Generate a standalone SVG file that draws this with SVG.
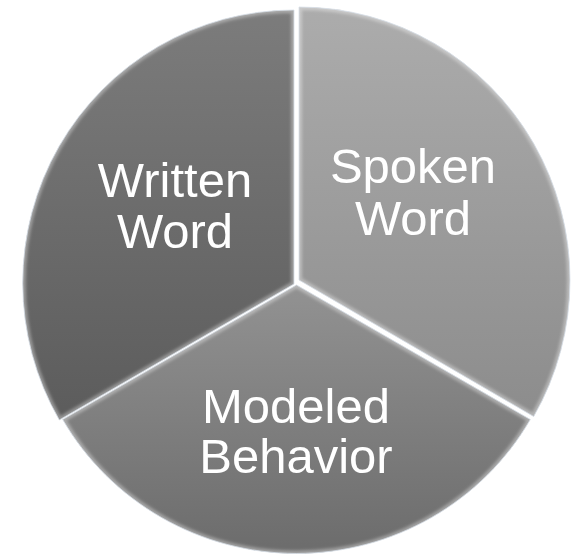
<svg xmlns="http://www.w3.org/2000/svg" width="571" height="555" viewBox="0 0 571 555">
  <style>
    .lbl { font-family: "Liberation Sans", Arial, sans-serif; font-size: 49px; fill: #ffffff; text-anchor: middle; }
    .bevel { fill: none; stroke: #ffffff; stroke-width: 6; stroke-opacity: 0.35; filter: url(#blur); }
    .rim { fill: none; stroke: #d8e0e8; stroke-width: 0.8; }
  </style>
  <defs>
    <linearGradient id="gW" gradientUnits="userSpaceOnUse" x1="0" y1="10" x2="0" y2="420">
      <stop offset="0" stop-color="#7c7c7c"/>
      <stop offset="1" stop-color="#5c5c5c"/>
    </linearGradient>
    <linearGradient id="gS" gradientUnits="userSpaceOnUse" x1="0" y1="7" x2="0" y2="420">
      <stop offset="0" stop-color="#acacac"/>
      <stop offset="1" stop-color="#8c8c8c"/>
    </linearGradient>
    <linearGradient id="gM" gradientUnits="userSpaceOnUse" x1="0" y1="286" x2="0" y2="553">
      <stop offset="0" stop-color="#929292"/>
      <stop offset="1" stop-color="#6c6c6c"/>
    </linearGradient>
    <filter id="blur" x="-10%" y="-10%" width="120%" height="120%">
      <feGaussianBlur stdDeviation="1.6"/>
    </filter>
    <path id="pW" d="M294,284 L59.3,420 A271,273 0 0 1 294,10 Z"/>
    <path id="pS" d="M299,280 L299,7 A271,273 0 0 1 533.7,416.5 Z"/>
    <path id="pM" d="M296.5,285 L530.3,419.5 A270,268 0 0 1 62.7,419.5 Z"/>
    <clipPath id="cW"><use href="#pW"/></clipPath>
    <clipPath id="cS"><use href="#pS"/></clipPath>
    <clipPath id="cM"><use href="#pM"/></clipPath>
  </defs>

  <g id="written-word">
    <use href="#pW" fill="url(#gW)"/>
    <g clip-path="url(#cW)"><use href="#pW" class="bevel"/></g>
    <use href="#pW" class="rim"/>
    <text class="lbl" x="175" y="197">Written</text>
    <text class="lbl" x="175" y="248">Word</text>
  </g>

  <g id="spoken-word">
    <use href="#pS" fill="url(#gS)"/>
    <g clip-path="url(#cS)"><use href="#pS" class="bevel"/></g>
    <use href="#pS" class="rim"/>
    <text class="lbl" x="413" y="183">Spoken</text>
    <text class="lbl" x="413" y="235">Word</text>
  </g>

  <g id="modeled-behavior">
    <use href="#pM" fill="url(#gM)"/>
    <g clip-path="url(#cM)"><use href="#pM" class="bevel"/></g>
    <use href="#pM" class="rim"/>
    <text class="lbl" x="296" y="423">Modeled</text>
    <text class="lbl" x="296" y="473">Behavior</text>
  </g>

  <g id="connectors"/>
</svg>
